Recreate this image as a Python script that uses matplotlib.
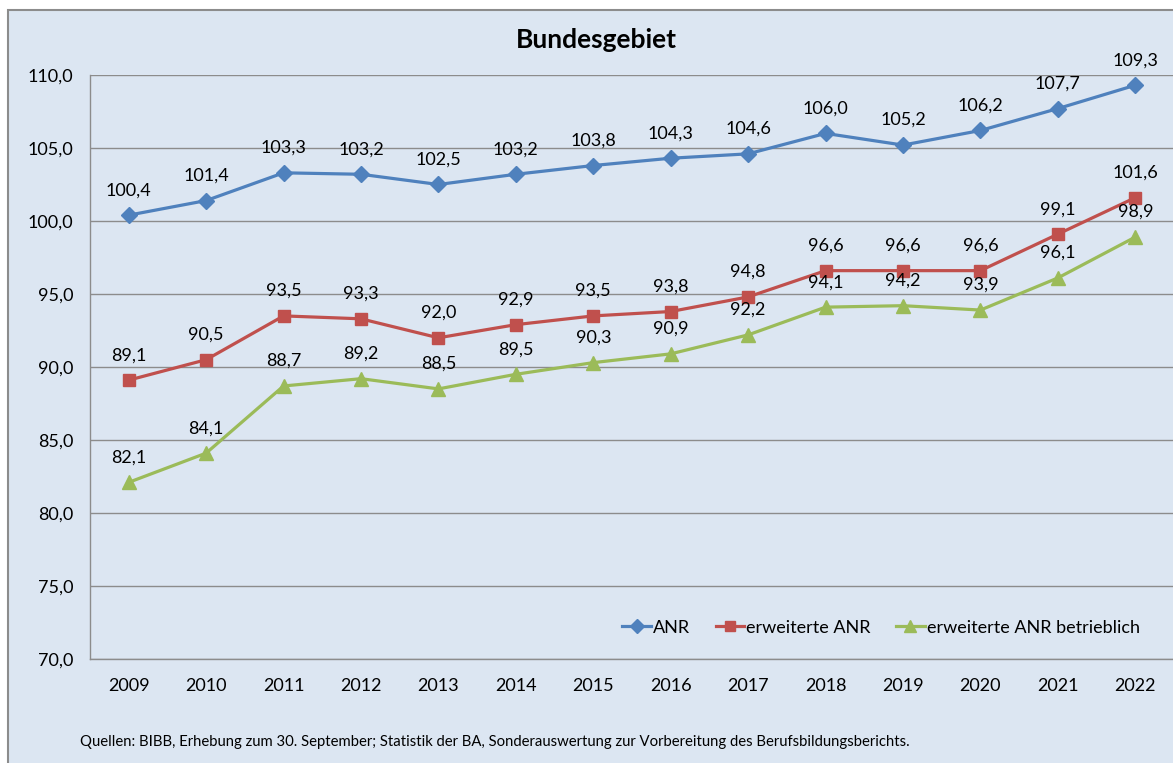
import matplotlib
matplotlib.use("Agg")
import matplotlib.pyplot as plt
from matplotlib.patches import Rectangle

# ===== DATA =====
years = ["2009", "2010", "2011", "2012", "2013", "2014", "2015",
         "2016", "2017", "2018", "2019", "2020", "2021", "2022"]
anr = [100.4, 101.4, 103.3, 103.2, 102.5, 103.2, 103.8,
       104.3, 104.6, 106.0, 105.2, 106.2, 107.7, 109.3]
anr_ext = [89.1, 90.5, 93.5, 93.3, 92.0, 92.9, 93.5,
           93.8, 94.8, 96.6, 96.6, 96.6, 99.1, 101.6]
anr_betr = [82.1, 84.1, 88.7, 89.2, 88.5, 89.5, 90.3,
            90.9, 92.2, 94.1, 94.2, 93.9, 96.1, 98.9]
y_ticks = [70, 75, 80, 85, 90, 95, 100, 105, 110]
# ================

BG = "#DCE6F2"
GRID = "#8C8C8C"
W, H = 1173, 763

plt.rcParams["font.family"] = ["Lato", "DejaVu Sans"]

fig = plt.figure(figsize=(W / 100, H / 100), dpi=100)
fig.patch.set_facecolor("white")

# chart area with grey frame (cropped at right/bottom)
frame = Rectangle((8 / W, -0.1), 1.2, (H - 10) / H + 0.1,
                  transform=fig.transFigure, facecolor=BG,
                  edgecolor="#8C8C8C", lw=1.5, zorder=-10)
fig.patches.append(frame)

ax = fig.add_axes([90 / W, (H - 659) / H, (1174 - 90) / W, (659 - 75) / H])
ax.patch.set_alpha(0)

x = list(range(len(years)))
series = [
    (anr, "ANR", "#4F81BD", "D", 8),
    (anr_ext, "erweiterte ANR", "#C0504D", "s", 9),
    (anr_betr, "erweiterte ANR betrieblich", "#9BBB59", "^", 9.5),
]
for vals, name, col, mk, ms in series:
    ax.plot(x, vals, color=col, lw=2.3, marker=mk, ms=ms, label=name, zorder=3)
    for xi, v in zip(x, vals):
        ax.annotate(f"{v:.1f}".replace(".", ","), (xi, v), xytext=(0, 18),
                    textcoords="offset points", ha="center", va="center",
                    fontsize=13, color="black", zorder=4)

ax.set_xlim(-0.5, len(years) - 0.5)
ax.set_ylim(70, 110)
ax.set_yticks(y_ticks)
ax.set_yticklabels([f"{t:.1f}".replace(".", ",") for t in y_ticks])
ax.set_xticks(x)
ax.set_xticklabels(years)
ax.tick_params(axis="both", length=0, labelsize=13)
ax.tick_params(axis="y", pad=12)
ax.tick_params(axis="x", pad=14)
ax.grid(axis="y", color=GRID, lw=1)
ax.set_axisbelow(True)
for side in ["top", "right"]:
    ax.spines[side].set_visible(False)
for side in ["left", "bottom"]:
    ax.spines[side].set_color(GRID)
    ax.spines[side].set_linewidth(1)

ax.legend(loc="lower right", bbox_to_anchor=(0.99, 0.0), ncol=3, frameon=False,
          fontsize=13, handlelength=1.6, handletextpad=0.1, columnspacing=1.4,
          borderaxespad=0.9, markerscale=0.85)

fig.text(596 / W, 1 - 40 / H, "Bundesgebiet", ha="center", va="center",
         fontsize=19, fontweight="bold")
fig.text(80 / W, 1 - 742 / H,
         "Quellen: BIBB, Erhebung zum 30. September; Statistik der BA, "
         "Sonderauswertung zur Vorbereitung des Berufsbildungsberichts.",
         ha="left", va="center", fontsize=10.7)

fig.savefig("out.png", dpi=100, facecolor=fig.get_facecolor())
